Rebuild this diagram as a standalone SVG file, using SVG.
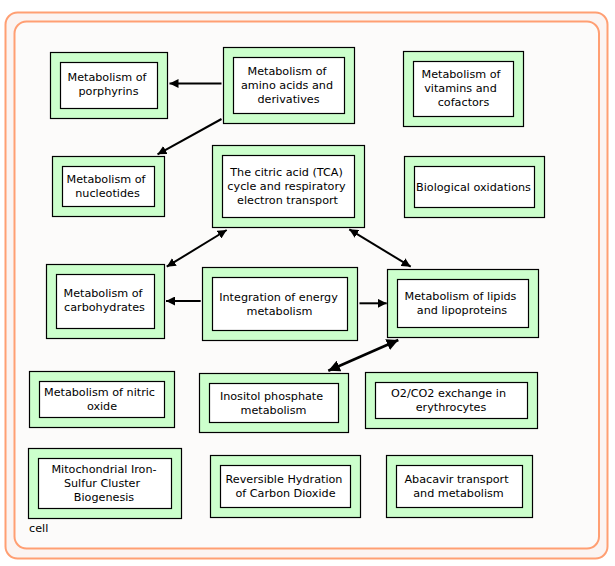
<svg xmlns="http://www.w3.org/2000/svg" width="615" height="566" viewBox="0 0 615 566">
<style>
.o{fill:#ccffcc;stroke:#000;stroke-width:1.2}
.i{fill:#fff;stroke:#000;stroke-width:1.2}
text{font-family:"DejaVu Sans","Liberation Sans",sans-serif;font-size:11.2px;fill:#000;text-anchor:middle;dominant-baseline:central}
.c{stroke:#000;stroke-width:2;fill:none}
</style>
<defs>
<marker id="ah" viewBox="0 0 10 10" refX="10" refY="5" markerWidth="4.5" markerHeight="4.5" orient="auto-start-reverse" markerUnits="strokeWidth">
<path d="M0,0 L10,5 L0,10 z" fill="#000"/>
</marker>
</defs>
<g id="cell">
<rect x="5.5" y="12.5" width="602" height="546" rx="12" fill="#fbf4f2" stroke="#ff9f73" stroke-width="2"/>
<rect x="14.5" y="21.5" width="584.5" height="527" rx="12" fill="#fcfbfa" stroke="#ff9f73" stroke-width="2"/>
<text x="29" y="528" style="text-anchor:start">cell</text>
</g>
<g id="n-porphyrins"><rect class="o" x="50.5" y="52.5" width="117" height="66"/><rect class="i" x="60.5" y="62.5" width="97" height="46"/><text x="107" y="77.5">Metabolism of</text><text x="108.5" y="91.5">porphyrins</text></g>
<g id="n-amino"><rect class="o" x="223.5" y="47.5" width="131" height="76"/><rect class="i" x="233.5" y="57.5" width="111" height="56"/><text x="287" y="71">Metabolism of</text><text x="287" y="85">amino acids and</text><text x="288.5" y="99">derivatives</text></g>
<g id="n-vitamins"><rect class="o" x="403.5" y="51.5" width="120" height="75"/><rect class="i" x="413.5" y="61.5" width="100" height="55"/><text x="461" y="74.5">Metabolism of</text><text x="460.5" y="88.5">vitamins and</text><text x="463.5" y="102.5">cofactors</text></g>
<g id="n-nucleotides"><rect class="o" x="52.5" y="156.5" width="112" height="60"/><rect class="i" x="62.5" y="166.5" width="92" height="40"/><text x="106" y="179">Metabolism of</text><text x="107.5" y="193">nucleotides</text></g>
<g id="n-tca"><rect class="o" x="212.5" y="145.5" width="152" height="82"/><rect class="i" x="222.5" y="155.5" width="132" height="62"/><text x="286.5" y="172">The citric acid (TCA)</text><text x="286.5" y="186">cycle and respiratory</text><text x="287.5" y="200">electron transport</text></g>
<g id="n-bioox"><rect class="o" x="404.5" y="156.5" width="140" height="61"/><rect class="i" x="414.5" y="166.5" width="120" height="41"/><text x="473.5" y="187">Biological oxidations</text></g>
<g id="n-carbs"><rect class="o" x="46.5" y="264.5" width="118" height="74"/><rect class="i" x="56.5" y="274.5" width="98" height="54"/><text x="103" y="293.5">Metabolism of</text><text x="104.5" y="307.5">carbohydrates</text></g>
<g id="n-integration"><rect class="o" x="202.5" y="267.5" width="155" height="73"/><rect class="i" x="212.5" y="277.5" width="135" height="53"/><text x="278.5" y="297">Integration of energy</text><text x="279.5" y="311">metabolism</text></g>
<g id="n-lipids"><rect class="o" x="387.5" y="269.5" width="151" height="68"/><rect class="i" x="397.5" y="279.5" width="131" height="48"/><text x="460.5" y="296">Metabolism of lipids</text><text x="462" y="310">and lipoproteins</text></g>
<g id="n-nitric"><rect class="o" x="29.5" y="371.5" width="145" height="56"/><rect class="i" x="39.5" y="381.5" width="125" height="36"/><text x="99.5" y="392">Metabolism of nitric</text><text x="102" y="406">oxide</text></g>
<g id="n-inositol"><rect class="o" x="199.5" y="373.5" width="149" height="59"/><rect class="i" x="209.5" y="383.5" width="129" height="39"/><text x="271.5" y="396">Inositol phosphate</text><text x="273.5" y="410">metabolism</text></g>
<g id="n-o2co2"><rect class="o" x="365.5" y="372.5" width="172" height="56"/><rect class="i" x="375.5" y="382.5" width="152" height="36"/><text x="448.5" y="393">O2/CO2 exchange in</text><text x="451" y="407">erythrocytes</text></g>
<g id="n-mito"><rect class="o" x="28.5" y="448.5" width="153" height="70"/><rect class="i" x="38.5" y="458.5" width="133" height="50"/><text x="104" y="469">Mitochondrial Iron-</text><text x="102" y="483">Sulfur Cluster</text><text x="104" y="497">Biogenesis</text></g>
<g id="n-hydration"><rect class="o" x="210.5" y="455.5" width="150" height="62"/><rect class="i" x="220.5" y="465.5" width="130" height="42"/><text x="284" y="479">Reversible Hydration</text><text x="285.5" y="493">of Carbon Dioxide</text></g>
<g id="n-abacavir"><rect class="o" x="386.5" y="455.5" width="146" height="62"/><rect class="i" x="396.5" y="465.5" width="126" height="42"/><text x="456.5" y="479">Abacavir transport</text><text x="458.5" y="493">and metabolism</text></g>
<g id="connectors">
<line class="c" x1="221.5" y1="83.5" x2="169.5" y2="83.5" marker-end="url(#ah)"/>
<line class="c" x1="221.5" y1="119" x2="157.5" y2="154.3" marker-end="url(#ah)"/>
<line class="c" x1="166.7" y1="266.7" x2="226.7" y2="230" marker-start="url(#ah)" marker-end="url(#ah)"/>
<line class="c" x1="349.3" y1="229.3" x2="410.7" y2="266.7" marker-start="url(#ah)" marker-end="url(#ah)"/>
<line class="c" x1="200.7" y1="301" x2="166" y2="301" marker-end="url(#ah)"/>
<line class="c" x1="359.5" y1="303.3" x2="386.7" y2="303.3" marker-end="url(#ah)"/>
<line class="c" style="stroke-width:2.6" x1="328.3" y1="370.7" x2="398.3" y2="340" marker-start="url(#ah)" marker-end="url(#ah)"/>
</g>
</svg>
